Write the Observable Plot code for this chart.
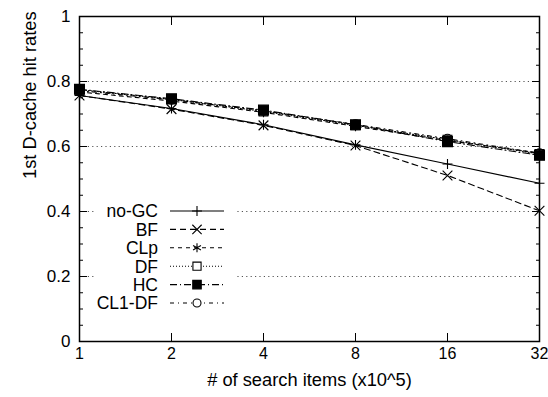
<!DOCTYPE html>
<html><head><meta charset="utf-8">
<script src="https://cdn.jsdelivr.net/npm/d3@7"></script>
<script src="https://cdn.jsdelivr.net/npm/@observablehq/plot@0.6"></script>
<style>body{margin:0;background:#fff}</style>
</head><body><div id="chart"></div>
<script>
// ---- data ----
const xTicks = [1, 2, 4, 8, 16, 32];
const yTicks = [0, 0.2, 0.4, 0.6, 0.8, 1];
const yMinorTicks = [0, 0.05, 0.1, 0.15, 0.2, 0.25, 0.3, 0.35, 0.4, 0.45, 0.5, 0.55, 0.6, 0.65, 0.7, 0.75, 0.8, 0.85, 0.9, 0.95, 1];
const gridValues = [0.2, 0.4, 0.6, 0.8];
const seriesNames = ["no-GC", "BF", "CLp", "DF", "HC", "CL1-DF"];
const noGC  = [0.757, 0.717, 0.667, 0.605, 0.546, 0.487];
const BF    = [0.757, 0.715, 0.665, 0.603, 0.511, 0.402];
const CLp   = [0.768, 0.740, 0.705, 0.662, 0.618, 0.580];
const DF    = [0.775, 0.745, 0.708, 0.665, 0.621, 0.577];
const HC    = [0.776, 0.747, 0.712, 0.667, 0.615, 0.573];
const CL1DF = [0.772, 0.744, 0.710, 0.668, 0.624, 0.579];
const seriesValues = [noGC, BF, CLp, DF, HC, CL1DF];
const xLabel = "# of search items (x10^5)";
const yLabel = "1st D-cache hit rates";

// ---- styles ----
const FONT = "'Liberation Sans', Arial, Helvetica, sans-serif";
const styles = [
  {dash: null,      symbol: "plus",     fill: "none",  r: 3.3, lr: 3.3},
  {dash: "6,4",     symbol: "times",    fill: "none",  r: 4.5, lr: 4.3},
  {dash: "4,4",     symbol: "asterisk", fill: "none",  r: 4.6, lr: 4.3},
  {dash: "1,2",     symbol: "square",   fill: "none",  r: 5.0, lr: 4.6},
  {dash: "7,3,1,3", symbol: "square",   fill: "black", r: 5.6, lr: 4.8},
  {dash: "4,4,1,4", symbol: "circle",   fill: "none",  r: 4.5, lr: 4.0}
];
const symbolMap = {plus: d3.symbolPlus, times: d3.symbolTimes, asterisk: d3.symbolAsterisk, square: d3.symbolSquare, circle: d3.symbolCircle};

const table = seriesNames.flatMap((name, i) => xTicks.map((x, j) => ({series: name, x, y: seriesValues[i][j]})));

const seriesMarks = seriesNames.flatMap((name, i) => {
  const d = table.filter(t => t.series === name);
  const s = styles[i];
  return [
    Plot.line(d, {x: "x", y: "y", stroke: "black", strokeWidth: 1.1, strokeDasharray: s.dash}),
    Plot.dot(d, {x: "x", y: "y", symbol: s.symbol, r: s.r, stroke: "black", strokeWidth: 1.1, fill: s.fill})
  ];
});

const plot = Plot.plot({
  width: 548, height: 397,
  marginLeft: 79, marginRight: 9, marginTop: 16, marginBottom: 56,
  style: {fontFamily: FONT, fontSize: "17px", background: "white", color: "black"},
  x: {type: "log", base: 2, domain: [1, 32]},
  y: {domain: [0, 1]},
  marks: [
    Plot.ruleY(gridValues, {stroke: "#555", strokeDasharray: "1.2,3.2", strokeWidth: 1}),
    ...seriesMarks,
    // labels
    Plot.axisX({ticks: xTicks, tickSize: 0, tickPadding: 6, tickFormat: d => String(d), label: null, fontSize: 16}),
    Plot.axisY({ticks: yTicks, tickSize: 0, tickPadding: 9, tickFormat: d => String(d), label: null}),
    // inward major ticks (bottom/top/left/right)
    Plot.axisX({anchor: "bottom", ticks: xTicks, tickSize: 8, dy: -8, fill: "none", label: null}),
    Plot.axisX({anchor: "top", ticks: xTicks, tickSize: 8, dy: 8, fill: "none", label: null}),
    Plot.axisY({anchor: "left", ticks: yTicks, tickSize: 8, dx: 8, fill: "none", label: null}),
    Plot.axisY({anchor: "right", ticks: yTicks, tickSize: 8, dx: -8, fill: "none", label: null}),
    // minor ticks
    Plot.axisY({anchor: "left", ticks: yMinorTicks, tickSize: 4, dx: 4, fill: "none", label: null}),
    Plot.axisY({anchor: "right", ticks: yMinorTicks, tickSize: 4, dx: -4, fill: "none", label: null}),
    Plot.frame({stroke: "black", strokeWidth: 1.5}),
    Plot.text([xLabel], {frameAnchor: "bottom", dy: 44, text: d => d, fill: "black", fontSize: 18.3}),
    Plot.text([yLabel], {frameAnchor: "left", dx: -49, rotate: -90, text: d => d, fill: "black", fontSize: 18.3})
  ]
});

document.getElementById("chart").appendChild(plot);

// ---- legend (opaque key box, gnuplot style) ----
const svg = d3.select(plot.tagName.toLowerCase() === "svg" ? plot : plot.querySelector("svg"));
const key = {left: 95, top: 201, right: 236, rowH: 18.4, firstY: 211, textX: 158, lineX1: 170, lineX2: 224, symX: 197};
const g = svg.append("g").attr("font-family", FONT).attr("font-size", 17.5);
g.append("rect").attr("x", key.left).attr("y", key.top).attr("width", key.right - key.left)
  .attr("height", key.rowH * seriesNames.length + 4).attr("fill", "white");
seriesNames.forEach((name, i) => {
  const y = key.firstY + i * key.rowH;
  const s = styles[i];
  g.append("text").attr("x", key.textX).attr("y", y).attr("dy", "0.36em").attr("text-anchor", "end").text(name);
  g.append("line").attr("x1", key.lineX1).attr("x2", key.lineX2).attr("y1", y).attr("y2", y)
    .attr("stroke", "black").attr("stroke-width", 1.1).attr("stroke-dasharray", s.dash);
  g.append("path").attr("transform", `translate(${key.symX},${y})`)
    .attr("d", d3.symbol(symbolMap[s.symbol], s.lr * s.lr * Math.PI)())
    .attr("stroke", "black").attr("stroke-width", 1.1).attr("fill", s.fill === "none" ? "white" : s.fill);
});
</script>
</body></html>
